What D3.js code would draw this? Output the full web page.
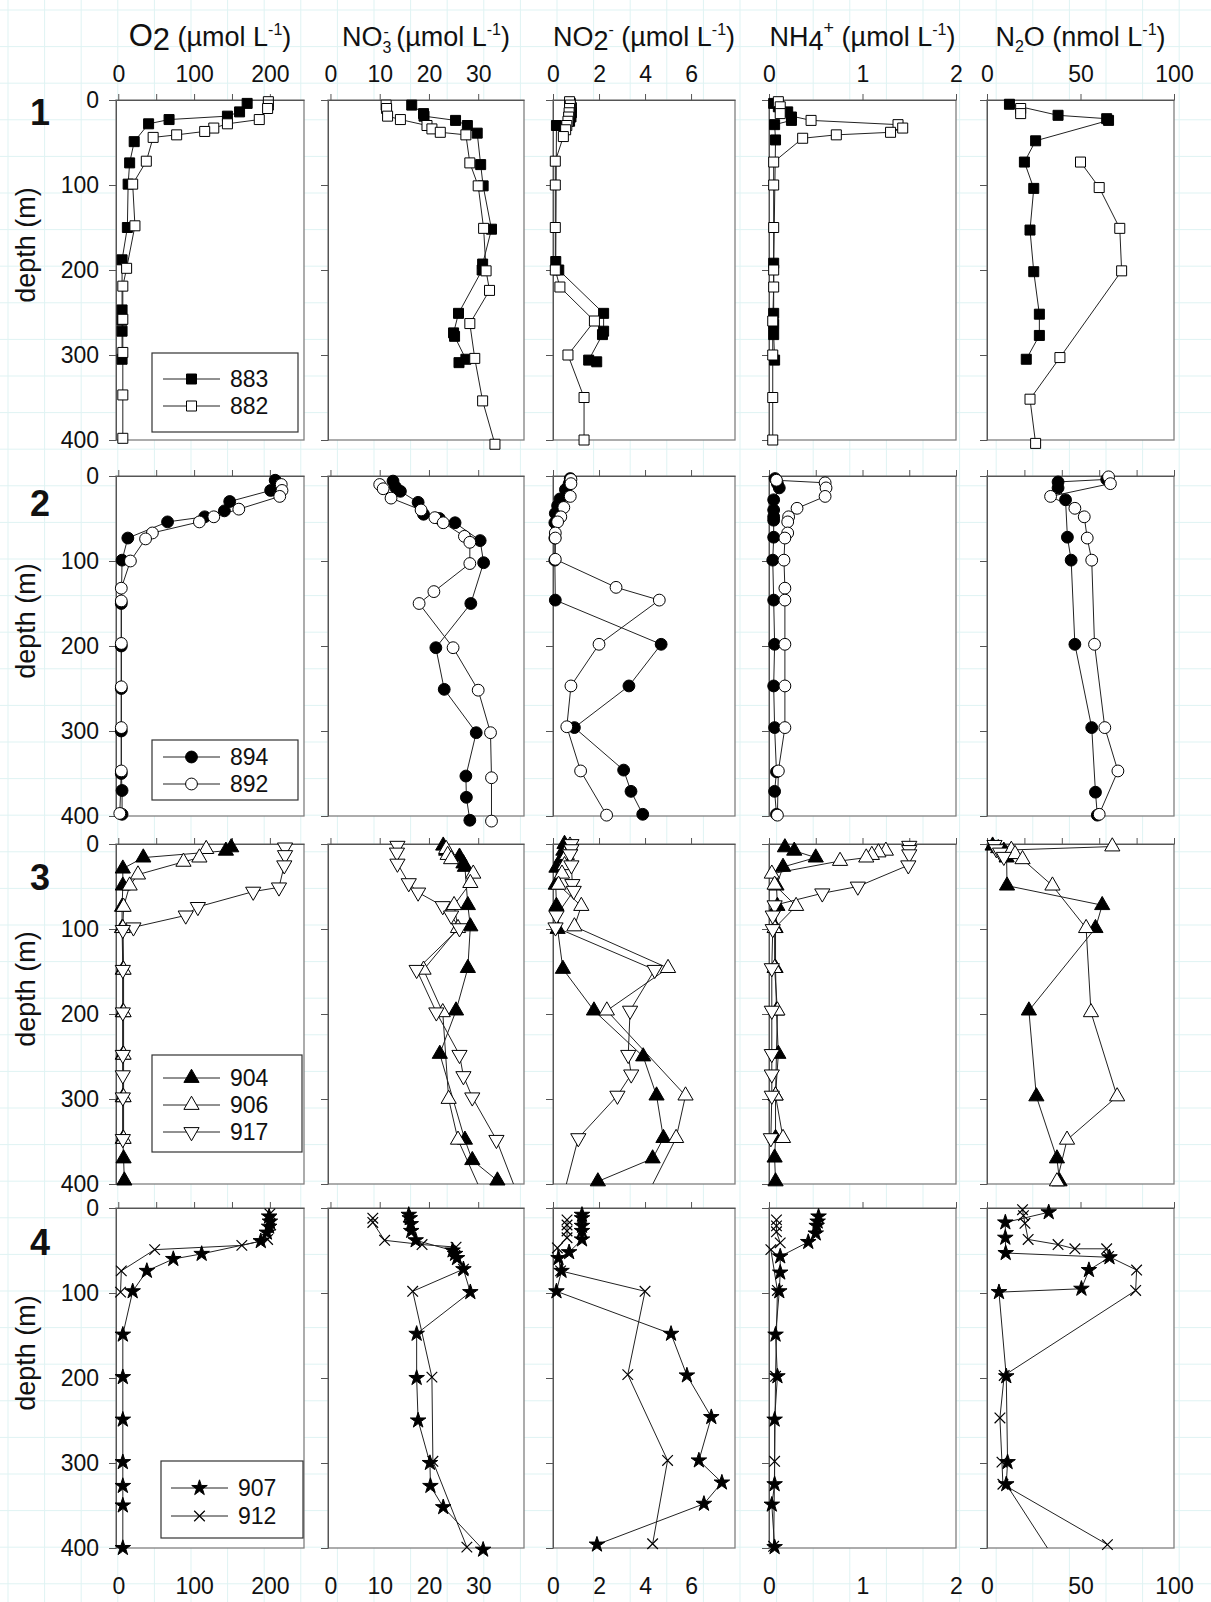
<!DOCTYPE html>
<html>
<head>
<meta charset="utf-8">
<script src="https://cdn.jsdelivr.net/npm/d3@7"></script>
<style>
  html, body { margin: 0; padding: 0; background: #fff; }
  svg text { font-family: "Liberation Sans", Arial, sans-serif; fill: #111; }
</style>
</head>
<body>
<svg id="chart" width="1211" height="1602"></svg>
<script>
// ---------------------------------------------------------------
// Variables (columns) and their axis ranges / tick marks
// ---------------------------------------------------------------
const variables = ["O2", "NO3", "NO2", "NH4", "N2O"];
const xDomains = {O2: [-3, 245], NO3: [-0.5, 39.3], NO2: [0, 7.91], NH4: [0, 2], N2O: [0, 100]};
const xTicks = {O2: [0, 50, 100, 150, 200], NO3: [0, 10, 20, 30], NO2: [0, 2, 4, 6],
                NH4: [0, 0.5, 1, 1.5, 2], N2O: [0, 20, 40, 60, 80, 100]};
const xTickLabels = {O2: [0, 100, 200], NO3: [0, 10, 20, 30], NO2: [0, 2, 4, 6], NH4: [0, 1, 2], N2O: [0, 50, 100]};
const depthTicks = [0, 100, 200, 300, 400];
const groupLabels = ["1", "2", "3", "4"];
const stationsByGroup = [["883", "882"], ["894", "892"], ["904", "906", "917"], ["907", "912"]];

// ---------------------------------------------------------------
// Profiles: [depth (m), value]; null breaks a line
// ---------------------------------------------------------------
const st883 = {
  O2:  [[4,170],[14,160],[19,144],[23,67],[28,40],[49,21],[74,15],[99,13],[150,12],[188,5],[247,5],[259,5],[272,5],[305,5]],
  NO3: [[6,16.5],[16,18.9],[19,19],[24,25.4],[30,27.8],[39,29.8],[76,30.5],[101,31],[152,32.7],[193,30.9],[200,30.8],[251,26],[274,25],[278,25.2],[305,27.5],[309,26.1]],
  NO2: [[4,0.75],[9,0.8],[15,0.8],[20,0.78],[25,0.72],[30,0.15],[190,0.12],[200,0.25],[251,2.2],[272,2.2],[276,2.15],[306,1.55],[308,1.9]],
  NH4: [[4,0.05],[8,0.1],[14,0.2],[20,0.24],[24,0.24],[29,0.06],[47,0.07],[192,0.05],[251,0.05],[264,0.05],[276,0.05],[306,0.06]],
  N2O: [[5,12],[18,38],[22,64],[24,65],[48,26],[73,20],[104,25],[153,23],[202,25],[252,28],[277,28],[305,21]]
};
const st882 = {
  O2:  [[2,198],[6,198],[10,197],[23,186],[28,144],[33,126],[37,114],[41,77],[44,46],[72,37],[99,19],[148,22],[198,11],[219,6],[258,6],[297,6],[347,6],[398,6]],
  NO3: [[6,11.3],[10,11.4],[19,11.6],[23,14.2],[30,19.6],[34,20.6],[38,22.3],[41,27.5],[74,28.3],[101,30],[151,31.1],[201,31.6],[224,32.3],[263,28.3],[304,29.3],[354,30.9],[405,33.4]],
  NO2: [[2,0.72],[6,0.75],[10,0.72],[15,0.7],[20,0.68],[25,0.65],[30,0.6],[35,0.55],[43,0.45],[72,0.1],[100,0.1],[150,0.1],[200,0.1],[220,0.3],[260,1.8],[300,0.65],[350,1.35],[400,1.35]],
  NH4: [[2,0.1],[8,0.12],[16,0.12],[24,0.45],[29,1.38],[33,1.43],[38,1.3],[41,0.72],[45,0.36],[73,0.05],[100,0.05],[150,0.05],[200,0.05],[220,0.05],[260,0.04],[300,0.04],[350,0.04],[400,0.04]],
  N2O: [[10,18],[16,18],null,[73,50],[103,60],[151,71],[201,72],[303,39],[352,23],[404,26]]
};
const st894 = {
  O2:  [[5,207],[17,201],[30,147],[41,140],[48,114],[54,65],[73,12.6],[99,5],[150,4],[200,4],[250,4],[300,4],[350,4],[370,5],[398,5]],
  NO3: [[6,12.7],[13,13.2],[18,14.2],[31,17.8],[45,18.9],[50,22.1],[55,25.3],[76,30.4],[102,31.1],[150,28.5],[202,21.4],[251,23.1],[302,29.6],[353,27.5],[378,27.6],[405,28.3]],
  NO2: [[3,0.75],[9,0.7],[16,0.54],[27,0.3],[35,0.2],[44,0.1],[55,0.08],[73,0.08],[99,0.08],[146,0.1],[198,4.7],[247,3.3],[296,0.93],[346,3.07],[371,3.39],[398,3.9]],
  NH4: [[3,0.065],[9,0.09],[14,0.11],[28,0.05],[40,0.05],[48,0.05],[52,0.05],[72,0.05],[99,0.04],[146,0.05],[198,0.06],[247,0.05],[296,0.06],[348,0.08],[371,0.06],[398,0.08]],
  N2O: [[4,64],[7,38],[14,38],[28,42],[72,43],[99,45],[198,47],[296,56],[372,58],[399,59]]
};
const st892 = {
  O2:  [[10,215],[17,216],[24,213],[39,159],[48,126],[54,107],[67,45],[74,36],[100,16],[132,4],[147,4],[197,4],[248,4],[296,4],[347,4],[397,2]],
  NO3: [[10,10],[15,10.7],[26,12.3],[40,18.4],[49,21.2],[55,22.9],[71,27.2],[78,28.3],[103,28.3],[136,21],[150,18],[202,24.9],[252,30],[302,32.5],[355,32.7],[406,32.7]],
  NO2: [[4,0.78],[9,0.78],[24,0.75],[37,0.47],[48,0.34],[54,0.2],[67,0.1],[73,0.1],[98,0.1],[131,2.74],[146,4.62],[198,2.0],[247,0.78],[295,0.6],[347,1.2],[399,2.33]],
  NH4: [[5,0.08],[8,0.6],[14,0.61],[24,0.6],[38,0.3],[48,0.21],[54,0.2],[67,0.2],[73,0.17],[99,0.16],[132,0.17],[146,0.17],[198,0.17],[247,0.17],[296,0.17],[347,0.1],[399,0.09]],
  N2O: [[1,65],[9,66],[24,34],[38,47],[48,52],[73,53.6],[99,56],[198,57.5],[296,63],[347,70],[398,60]]
};
const st904 = {
  O2:  [[4,149],[8,142],[16,33],[29,6],[49,6],[74,5],[99,5],[148,6],[198,6],[248,6],[298,6],[347,6],[370,7],[396,8]],
  NO3: [[2,22.9],[8,23.5],[15,26.2],[23,27],[27,27.3],[72,27.9],[97,28.4],[146,27.9],[196,25.5],[247,22.2],[348,27.3],[372,28.8],[396,33.9]],
  NO2: [[0,0.5],[8,0.45],[17,0.37],[28,0.15],[48,0.12],[73,0.15],[100,0.2],[147,0.43],[196,1.78],[250,3.92],[296,4.5],[346,4.8],[370,4.33],[397,1.95]],
  NH4: [[4,0.17],[8,0.27],[16,0.5],[27,0.15],[49,0.08],[73,0.09],[99,0.07],[146,0.07],[196,0.08],[247,0.1],[296,0.07],[346,0.07],[369,0.06],[397,0.07]],
  N2O: [[2,3],[5,6],[8,9],[12,10.5],[16,10.5],[49,10.7],[72,61.6],[99,58],[196,22.4],[297,26.4],[370,37.4],[397,38.8]]
};
const st906 = {
  O2:  [[6,116],[16,107],[21,86],[36,26],[49,15],[74,7],[99,6],[148,7],[198,7],[248,7],[298,7],[347,7]],
  NO3: [[6,23.5],[13,23.8],[18,24.5],[35,29],[46,28.4],[72,25.1],[99,25.9],[148,18.9],[198,22.8],[300,24],[348,25.9],[450,33.8]],
  NO2: [[2,0.74],[13,0.6],[25,0.5],[35,0.39],[48,0.24],[73,1.23],[97,0.93],[146,5.0],[196,2.34],[296,5.76],[346,5.35],[450,3.4]],
  NH4: [[8,1.25],[10,1.17],[13,1.1],[16,1.04],[20,0.76],[35,0.03],[48,0.06],[73,0.29],[99,0.06],[146,0.06],[196,0.09],[296,0.07],[346,0.15]],
  N2O: [[3,67],[7,13],[12,15],[18,19],[49,35],[99,53],[198,55.6],[297,69.6],[348,42.8],[397,37.4]]
};
const st917 = {
  O2:  [[4,220],[13,220],[25,219],[51,212],[56,178],[74,105],[84,89],[98,20],[101,6],[148,6],[198,6],[248,6],[272,6],[298,6],[347,6]],
  NO3: [[2,13.6],[10,13.5],[23,13.6],[46,15.9],[57,17.8],[73,22.8],[84,24.5],[99,26.2],[148,17.5],[198,21.5],[248,26.2],[273,27],[298,28.8],[348,33.7],[450,40.5]],
  NO2: [[0,0.8],[6,0.8],[12,0.74],[25,0.8],[47,0.84],[55,0.9],[84,0.15],[98,0.11],[148,4.42],[196,3.35],[248,3.27],[271,3.4],[296,2.8],[346,1.1],[450,0.1]],
  NH4: [[2,1.5],[7,1.5],[12,1.5],[25,1.49],[50,0.95],[58,0.57],[72,0.06],[84,0.04],[100,0.04],[146,0.03],[196,0.03],[247,0.03],[271,0.03],[296,0.03],[346,0.02]],
  N2O: [[1,4],[6,5],[10,7],[15,9]]
};
const st907 = {
  O2:  [[10,199],[16,200],[22,199],[29,196],[39,188],[54,110],[60,72.6],[74,37.7],[98,19],[149,6],[199,6],[249,6],[299,6],[327,6],[350,6],[400,6]],
  NO3: [[8,15.9],[12,16.1],[19,16.3],[27,16.4],[38,17.3],[50,24.8],[54,25.3],[59,25.7],[72,27],[99,28.4],[148,17.5],[200,17.5],[250,17.8],[300,20.2],[327,20.3],[352,22.9],[402,31]],
  NO2: [[8,1.26],[12,1.26],[21,1.26],[27,1.26],[37,1.26],[52,0.7],[59,0.24],[74,0.37],[98,0.15],[148,5.13],[197,5.82],[246,6.88],[297,6.34],[323,7.34],[348,6.56],[396,1.91]],
  NH4: [[10,0.53],[16,0.52],[21,0.51],[30,0.5],[40,0.42],[57,0.12],[76,0.12],[98,0.11],[149,0.07],[198,0.09],[249,0.06],[325,0.06],[349,0.03],[399,0.06]],
  N2O: [[5,33],[17,9.8],[35,9.8],[53,10],[58,65.5],[73,54.5],[95,50.5],[99,6.4],[198,10.3],[299,11],[325,10.3],[450,47]]
};
const st912 = {
  O2:  [[7,200],[14,201],[20,201],[37,197],[44,163],[49,48],[74,4],[99,3]],
  NO3: [[12,8.6],[17,8.6],[38,11],[43,18.6],[46,25.5],[72,27],[98,16.7],[199,20.6],[298,20.8],[399,27.7]],
  NO2: [[14,0.61],[20,0.61],[27,0.61],[35,0.61],[47,0.19],[74,0.33],[98,4.0],[196,3.25],[297,4.98],[395,4.33]],
  NH4: [[14,0.08],[21,0.08],[28,0.08],[41,0.12],[49,0.02],[97,0.09],[198,0.07],[298,0.06],[398,0.05]],
  N2O: [[2,19],[9,19.5],[18,20.3],[37,22],[43,38],[48,47],[48,64],[57,65],[73,80],[97,79.5],[197,9.2],[247,6.9],[299,8],[325,8.5],[396,64.4]]
};
const profiles = {"883": st883, "882": st882, "894": st894, "892": st892, "904": st904,
                  "906": st906, "917": st917, "907": st907, "912": st912};

// ---------------------------------------------------------------
// Layout
// ---------------------------------------------------------------
const W = 1211, H = 1602;
const colRanges = [[116, 304], [328, 524], [553, 735], [769, 956], [987, 1174]];
const rowTops = [100, 476, 844, 1208];
const panelH = 340;
const groupLabelY = [112, 503, 877, 1242];
const legendBoxes = [
  {x: 152, y: 353, w: 146, h: 79, rows: [379, 406], lx: [163, 220], tx: 230},
  {x: 152, y: 740, w: 146, h: 60, rows: [757, 784], lx: [163, 220], tx: 230},
  {x: 152, y: 1055, w: 150, h: 97, rows: [1078, 1105, 1132], lx: [163, 220], tx: 230},
  {x: 161, y: 1461, w: 142, h: 77, rows: [1488, 1516], lx: [171, 228], tx: 238}
];

const marker = {
  "883": {type: d3.symbolSquare, size: 100, fill: "#000"},
  "882": {type: d3.symbolSquare, size: 100, fill: "#fff"},
  "894": {type: d3.symbolCircle, size: 110, fill: "#000"},
  "892": {type: d3.symbolCircle, size: 110, fill: "#fff"},
  "904": {type: d3.symbolTriangle, size: 100, fill: "#000"},
  "906": {type: d3.symbolTriangle, size: 100, fill: "#fff"},
  "917": {type: d3.symbolTriangle, size: 100, fill: "#fff", rotate: 180},
  "907": {type: d3.symbolStar, size: 75, fill: "#000"},
  "912": {type: d3.symbolTimes, size: 75, fill: "none", stroked: true}
};

const svg = d3.select("#chart");

// pale graph-paper background
const grid = svg.append("g").attr("stroke", "#dff3f3").attr("stroke-width", 1);
const gridStep = 36.6;
grid.selectAll("line.v").data(d3.range(8, W, gridStep)).join("line")
  .attr("x1", d => d).attr("x2", d => d).attr("y1", 0).attr("y2", H);
grid.selectAll("line.h").data(d3.range(10, H, gridStep)).join("line")
  .attr("y1", d => d).attr("y2", d => d).attr("x1", 0).attr("x2", W);

function drawMarker(sel, st) {
  const m = marker[st];
  sel.attr("d", d3.symbol().type(m.type).size(m.size))
     .attr("fill", m.fill)
     .attr("stroke", "#000")
     .attr("stroke-width", m.stroked ? 1.2 : 1);
}

// column headers
const headers = [
  [{t: "O", s: 31}, {t: "2", s: 31, dy: 4}, {t: " (µmol L", s: 27, dy: -4}, {t: "-1", s: 16, dy: -11}, {t: ")", s: 27, dy: 11}],
  [{t: "NO", s: 27}, {t: "3", s: 16, dy: 7}, {t: "-", s: 16, dy: -16, dx: -8}, {t: " (µmol L", s: 27, dy: 9}, {t: "-1", s: 16, dy: -11}, {t: ")", s: 27, dy: 11}],
  [{t: "NO", s: 27}, {t: "2", s: 27, dy: 4}, {t: "-", s: 16, dy: -15}, {t: " (µmol L", s: 27, dy: 11}, {t: "-1", s: 16, dy: -11}, {t: ")", s: 27, dy: 11}],
  [{t: "NH", s: 27}, {t: "4", s: 27, dy: 4}, {t: "+", s: 18, dy: -16}, {t: " (µmol L", s: 27, dy: 12}, {t: "-1", s: 16, dy: -11}, {t: ")", s: 27, dy: 11}],
  [{t: "N", s: 27}, {t: "2", s: 16, dy: 6}, {t: "O (nmol L", s: 27, dy: -6}, {t: "-1", s: 16, dy: -11}, {t: ")", s: 27, dy: 11}]
];
headers.forEach((parts, c) => {
  const cx = (colRanges[c][0] + colRanges[c][1]) / 2;
  const t = svg.append("text").attr("x", cx).attr("y", 46).attr("text-anchor", "middle");
  parts.forEach(p => {
    t.append("tspan").text(p.t).attr("font-size", p.s)
      .attr("dy", p.dy || 0).attr("dx", p.dx || 0);
  });
});

rowTops.forEach((top, r) => {
  const ys = d3.scaleLinear().domain([0, 400]).range([top, top + panelH]);

  // group number and depth title
  svg.append("text").attr("x", 40).attr("y", groupLabelY[r] + 13)
    .attr("text-anchor", "middle").attr("font-size", 36).attr("font-weight", "bold")
    .text(groupLabels[r]);
  svg.append("text")
    .attr("transform", `translate(26,${top + 145}) rotate(-90)`)
    .attr("text-anchor", "middle").attr("dy", "0.35em").attr("font-size", 27)
    .text("depth (m)");

  variables.forEach((v, c) => {
    const xs = d3.scaleLinear().domain(xDomains[v]).range(colRanges[c]);
    const g = svg.append("g");
    const x0 = colRanges[c][0], x1 = colRanges[c][1];

    // frame
    g.append("rect").attr("x", x0).attr("y", top).attr("width", x1 - x0).attr("height", panelH)
      .attr("fill", "#fff").attr("stroke", "#808080").attr("stroke-width", 1.3);

    // top axis
    let tv = xTicks[v];
    if ((r === 0 || r === 3) && v === "NH4") tv = [0, 1, 2];
    if ((r === 0 || r === 3) && v === "N2O") tv = [0, 50, 100];
    const topAxis = d3.axisTop(xs).tickValues(tv).tickSize(6).tickSizeOuter(0).tickPadding(12)
      .tickFormat(d => (r === 0 && xTickLabels[v].includes(d)) ? d3.format("d")(d) : "");
    const ta = g.append("g").attr("transform", `translate(0,${top})`).call(topAxis);
    ta.selectAll("text").attr("font-size", 23).attr("font-family", null);
    ta.selectAll("line,path").attr("stroke", "#555");

    if (r === 3) {
      const bottomAxis = d3.axisBottom(xs).tickValues(xTickLabels[v]).tickSize(0).tickPadding(30)
        .tickFormat(d3.format("d"));
      const ba = g.append("g").attr("transform", `translate(0,${top + panelH})`).call(bottomAxis);
      ba.select("path").remove();
      ba.selectAll("text").attr("font-size", 23).attr("font-family", null);
    }

    // depth axis
    const leftAxis = d3.axisLeft(ys).tickValues(depthTicks).tickSize(7).tickSizeOuter(0).tickPadding(10)
      .tickFormat(d => c === 0 ? d : "");
    const la = g.append("g").attr("transform", `translate(${x0},0)`).call(leftAxis);
    la.selectAll("text").attr("font-size", 23).attr("font-family", null);
    la.selectAll("line,path").attr("stroke", "#555");

    // clip region for profile lines
    const clipId = `clip-${r}-${c}`;
    svg.append("clipPath").attr("id", clipId).append("rect")
      .attr("x", x0).attr("y", top).attr("width", x1 - x0).attr("height", panelH);

    const line = d3.line().defined(d => d !== null).x(d => xs(d[1])).y(d => ys(d[0]));
    stationsByGroup[r].forEach(st => {
      const data = profiles[st][v];
      g.append("path").datum(data).attr("d", line).attr("fill", "none")
        .attr("stroke", "#222").attr("stroke-width", 1).attr("clip-path", `url(#${clipId})`);
    });
    stationsByGroup[r].forEach(st => {
      const pts = profiles[st][v].filter(d => d !== null && d[0] <= 410);
      const m = marker[st];
      g.selectAll(null).data(pts).join("path")
        .attr("transform", d => `translate(${xs(d[1])},${ys(d[0])})${m.rotate ? " rotate(" + m.rotate + ")" : ""}`)
        .call(drawMarker, st);
    });
  });

  // legend
  const lb = legendBoxes[r];
  const lg = svg.append("g");
  lg.append("rect").attr("x", lb.x).attr("y", lb.y).attr("width", lb.w).attr("height", lb.h)
    .attr("fill", "#fff").attr("stroke", "#333").attr("stroke-width", 1.2);
  stationsByGroup[r].forEach((st, i) => {
    const y = lb.rows[i];
    lg.append("line").attr("x1", lb.lx[0]).attr("x2", lb.lx[1]).attr("y1", y).attr("y2", y)
      .attr("stroke", "#222").attr("stroke-width", 1);
    const m = marker[st];
    lg.append("path")
      .attr("transform", `translate(${(lb.lx[0] + lb.lx[1]) / 2},${y})${m.rotate ? " rotate(" + m.rotate + ")" : ""}`)
      .call(drawMarker, st);
    lg.append("text").attr("x", lb.tx).attr("y", y).attr("dy", "0.36em").attr("font-size", 23).text(st);
  });
});
</script>
</body>
</html>
